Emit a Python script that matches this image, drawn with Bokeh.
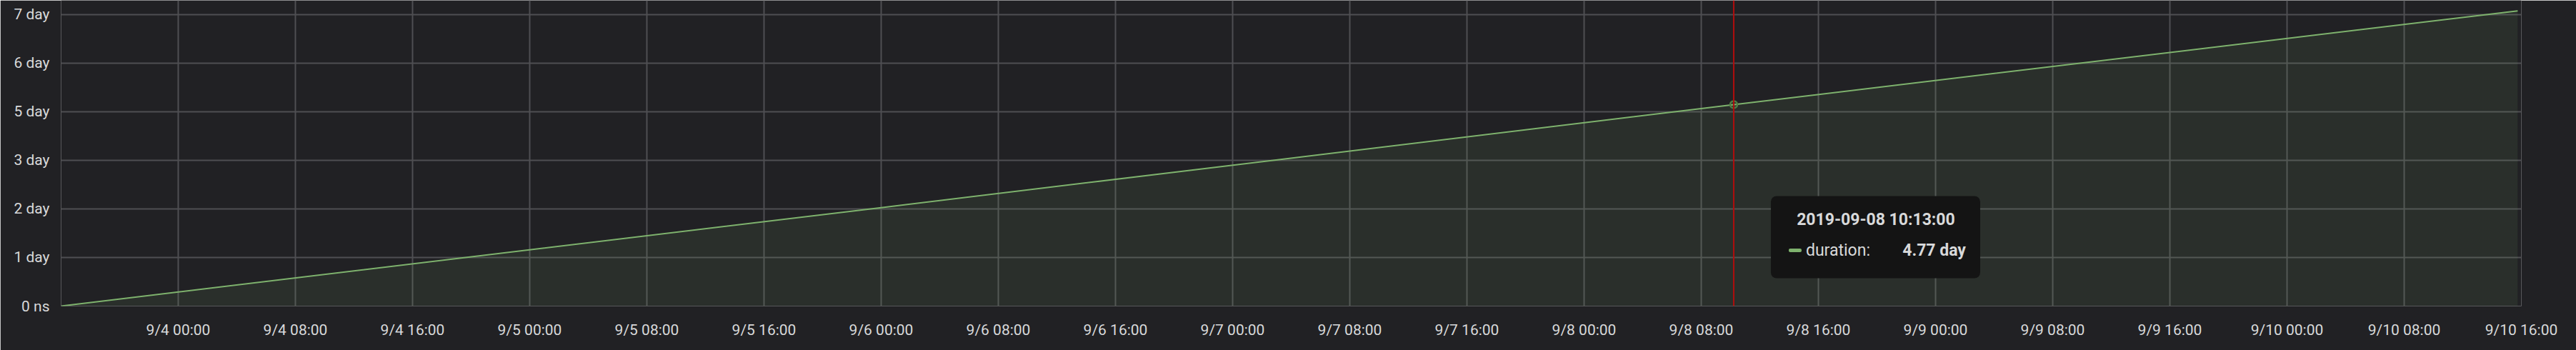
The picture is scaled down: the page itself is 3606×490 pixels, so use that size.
from datetime import datetime
from bokeh.plotting import figure
from bokeh.models import (Range1d, FixedTicker, Span, BoxAnnotation, Label,
                          ColumnDataSource)
from bokeh.embed import file_html
from bokeh.resources import INLINE

# ---------------- data ----------------
times = ["2019-09-03 16:00", "2019-09-06 00:00", "2019-09-08 10:13", "2019-09-10 15:45"]
duration_days = [0.0, 2.33, 4.77, 6.99]

x_start = "2019-09-03 16:00"
x_end = "2019-09-10 16:00"

x_tick_times = ["2019-09-04 00:00", "2019-09-04 08:00", "2019-09-04 16:00",
                "2019-09-05 00:00", "2019-09-05 08:00", "2019-09-05 16:00",
                "2019-09-06 00:00", "2019-09-06 08:00", "2019-09-06 16:00",
                "2019-09-07 00:00", "2019-09-07 08:00", "2019-09-07 16:00",
                "2019-09-08 00:00", "2019-09-08 08:00", "2019-09-08 16:00",
                "2019-09-09 00:00", "2019-09-09 08:00", "2019-09-09 16:00",
                "2019-09-10 00:00", "2019-09-10 08:00", "2019-09-10 16:00"]
x_tick_labels = ["9/4 00:00", "9/4 08:00", "9/4 16:00",
                 "9/5 00:00", "9/5 08:00", "9/5 16:00",
                 "9/6 00:00", "9/6 08:00", "9/6 16:00",
                 "9/7 00:00", "9/7 08:00", "9/7 16:00",
                 "9/8 00:00", "9/8 08:00", "9/8 16:00",
                 "9/9 00:00", "9/9 08:00", "9/9 16:00",
                 "9/10 00:00", "9/10 08:00", "9/10 16:00"]

y_ticks = [0.0, 1.15, 2.3, 3.45, 4.6, 5.75, 6.9]
y_tick_labels = ["0 ns", "1 day", "2 day", "3 day", "5 day", "6 day", "7 day"]
y_max = 7.238

hover_time = "2019-09-08 10:13"
hover_value = 4.77
tooltip_title = "2019-09-08 10:13:00"
series_name = "duration"
tooltip_value = "4.77 day"

# ---------------- helpers ----------------
def ms(s):
    return datetime.strptime(s, "%Y-%m-%d %H:%M").timestamp() * 1000.0

BG = "#212124"
GRID = "#4f4f52"
TEXT = "#d8d9da"
GREEN = "#7eb26d"
FONT = "Roboto"

W, H = 3606, 490
ML, MR, MT, MB = 85, 77, 0, 62
frame_w = W - ML - MR
frame_h = H - MT - MB

x0, x1 = ms(x_start), ms(x_end)
ms_per_px = (x1 - x0) / frame_w
day_per_px = y_max / frame_h

src = ColumnDataSource(dict(
    t=[ms(s) for s in times],
    v=duration_days,
    z=[0.0] * len(times),
))

p = figure(width=W, height=H, output_backend="svg", toolbar_location=None,
           x_axis_type="datetime",
           x_range=Range1d(x0, x1), y_range=Range1d(0, y_max),
           min_border_left=ML, min_border_right=MR,
           min_border_top=MT, min_border_bottom=MB)
p.title.visible = False
p.background_fill_color = BG
p.border_fill_color = BG
p.outline_line_color = None

# grid
p.xgrid.ticker = FixedTicker(ticks=[ms(s) for s in x_tick_times])
p.ygrid.ticker = FixedTicker(ticks=y_ticks)
for g in (p.xgrid, p.ygrid):
    g.grid_line_color = GRID
    g.grid_line_width = 2

# axes
xa = p.xaxis[0]
xa.ticker = FixedTicker(ticks=[ms(s) for s in x_tick_times])
xa.major_label_overrides = {ms(s): lab for s, lab in zip(x_tick_times, x_tick_labels)}
ya = p.yaxis[0]
ya.ticker = FixedTicker(ticks=y_ticks)
ya.major_label_overrides = {v: lab for v, lab in zip(y_ticks, y_tick_labels)}
for ax in (xa, ya):
    ax.axis_line_color = None
    ax.major_tick_line_color = None
    ax.minor_tick_line_color = None
    ax.major_label_text_color = TEXT
    ax.major_label_text_font = FONT
    ax.major_label_text_font_size = "21px"
xa.major_label_standoff = 15
ya.major_label_standoff = 10

# series
p.varea(x="t", y1="z", y2="v", source=src, fill_color=GREEN, fill_alpha=0.1)
p.line(x="t", y="v", source=src, line_color=GREEN, line_width=2)

# crosshair + hover marker
hx = ms(hover_time)
p.add_layout(Span(location=hx, dimension="height", line_color="#b00d0d", line_width=2))
p.scatter([hx], [hover_value], size=10, marker="circle", fill_color=GREEN,
          fill_alpha=0.15, line_color="#4f7d45", line_width=2.5)

# tooltip (positioned in pixel offsets from the hovered point)
def tx(dpx):
    return hx + dpx * ms_per_px

def ty(px_from_bottom):
    return px_from_bottom * day_per_px

p.add_layout(BoxAnnotation(left=tx(52), right=tx(345), top=ty(154), bottom=ty(39),
                           fill_color="#141414", fill_alpha=1.0, line_color=None,
                           border_radius=8, level="overlay"))
p.add_layout(Label(x=tx(199), y=ty(121), text=tooltip_title, text_align="center",
                   text_baseline="middle", text_color=TEXT, text_font=FONT,
                   text_font_size="23px", text_font_style="bold", level="overlay"))
p.add_layout(BoxAnnotation(left=tx(77), right=tx(95), top=ty(80.5), bottom=ty(75.5),
                           fill_color=GREEN, fill_alpha=1.0, line_color=None,
                           border_radius=2, level="overlay"))
p.add_layout(Label(x=tx(101), y=ty(78), text=series_name + ":", text_align="left",
                   text_baseline="middle", text_color=TEXT, text_font=FONT,
                   text_font_size="23px", level="overlay"))
p.add_layout(Label(x=tx(325), y=ty(78), text=tooltip_value, text_align="right",
                   text_baseline="middle", text_color=TEXT, text_font=FONT,
                   text_font_size="23px", text_font_style="bold", level="overlay"))

html = file_html(p, INLINE)
html = html.replace("<body>", '<body style="background-color:%s;">' % BG, 1)
open("out.html", "w").write(html)
